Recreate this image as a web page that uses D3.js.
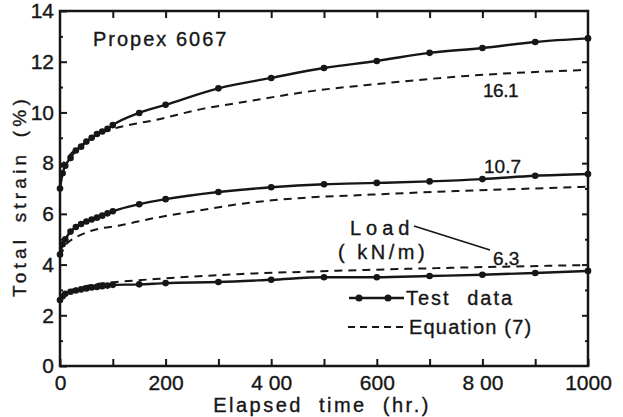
<!DOCTYPE html>
<html><head><meta charset="utf-8">
<script src="https://cdn.jsdelivr.net/npm/d3@7/dist/d3.min.js"></script>
<style>
html,body{margin:0;padding:0;background:#fff;}
svg{display:block;}
text{font-family:"Liberation Sans",Arial,sans-serif;fill:#161616;stroke:#161616;stroke-width:0.35px;}
</style></head>
<body>
<svg id="c" width="623" height="417"></svg>
<script>
// ---- data ----
const testTimes = [0,5,10,20,30,40,50,60,70,80,90,100,150,200,300,400,500,600,700,800,900,1000];
const test161 = [7.0,7.6,7.9,8.2,8.5,8.65,8.85,9.0,9.15,9.25,9.35,9.5,9.98,10.3,10.95,11.36,11.75,12.03,12.35,12.54,12.78,12.92];
const test107 = [4.4,4.8,5.0,5.3,5.48,5.6,5.7,5.78,5.85,5.93,6.02,6.1,6.38,6.58,6.86,7.05,7.17,7.22,7.28,7.37,7.5,7.57];
const test63  = [2.6,2.75,2.85,2.93,2.98,3.02,3.06,3.1,3.12,3.15,3.17,3.2,3.22,3.27,3.31,3.4,3.5,3.5,3.55,3.6,3.67,3.75];

const eqTimes161 = [0,10,20,40,60,80,100,130,180,270,345,480,600,770,1000];
const eq161 = [7.8,8.1,8.35,8.7,9.0,9.2,9.35,9.5,9.7,10.14,10.4,10.85,11.12,11.44,11.68];
const eqTimes107 = [0,10,28,53,117,180,269,356,460,581,750,896,1000];
const eq107 = [4.3,4.75,5.05,5.29,5.56,5.84,6.15,6.43,6.63,6.75,6.9,7.0,7.07];
const eqTimes63 = [0,10,30,60,129,180,345,455,600,800,1000];
const eq63 = [2.6,2.9,3.05,3.2,3.35,3.43,3.63,3.71,3.8,3.9,3.98];

const xTicks = [0,200,400,600,800,1000];
const xTickLabels = ["0","200","4 00","600","8 00","1000"];
const yTicks = [0,2,4,6,8,10,12,14];
const loadLabels = ["16.1","10.7","6.3"];

// ---- layout ----
const svg = d3.select("#c");
const x = d3.scaleLinear().domain([0,1000]).range([60,588]);
const y = d3.scaleLinear().domain([0,14]).range([366,11]);
const ink = "#161616";

// frame
svg.append("rect").attr("x",x(0)).attr("y",y(14)).attr("width",x(1000)-x(0)).attr("height",y(0)-y(14))
  .attr("fill","none").attr("stroke",ink).attr("stroke-width",2.5);

function styleAxis(g){
  g.select(".domain").remove();
  g.selectAll(".tick line").attr("stroke",ink).attr("stroke-width",2);
  g.selectAll(".tick text").attr("fill",ink).style("font-size","21px")
   .style("font-family",'"Liberation Sans",Arial,sans-serif');
}
// bottom axis with labels
svg.append("g").attr("transform",`translate(0,${y(0)})`)
  .call(d3.axisBottom(x).tickValues(xTicks).tickSize(-7).tickPadding(9)
        .tickFormat((d,i)=>xTickLabels[i]))
  .call(styleAxis);
// bottom minor
svg.append("g").attr("transform",`translate(0,${y(0)})`)
  .call(d3.axisBottom(x).tickValues([100,300,500,700,900]).tickSize(-7).tickFormat(""))
  .call(styleAxis);
// top ticks
svg.append("g").attr("transform",`translate(0,${y(14)})`)
  .call(d3.axisTop(x).tickValues(d3.range(100,1000,100)).tickSize(-7).tickFormat(""))
  .call(styleAxis);
// left axis
svg.append("g").attr("transform",`translate(${x(0)},0)`)
  .call(d3.axisLeft(y).tickValues(yTicks).tickSize(-7).tickPadding(6))
  .call(styleAxis);
svg.append("g").attr("transform",`translate(${x(0)},0)`)
  .call(d3.axisLeft(y).tickValues([1,3,5,7,9,11,13]).tickSize(-3).tickFormat(""))
  .call(styleAxis);
// right axis
svg.append("g").attr("transform",`translate(${x(1000)},0)`)
  .call(d3.axisRight(y).tickValues(yTicks.slice(1,7)).tickSize(-6).tickFormat(""))
  .call(styleAxis);
svg.append("g").attr("transform",`translate(${x(1000)},0)`)
  .call(d3.axisRight(y).tickValues([1,3,5,7,9,11,13]).tickSize(-3).tickFormat(""))
  .call(styleAxis);

// curves
const line = d3.line().x(d=>x(d[0])).y(d=>y(d[1])).curve(d3.curveMonotoneX);
const tests = [test161,test107,test63];
const eqs = [[eqTimes161,eq161],[eqTimes107,eq107],[eqTimes63,eq63]];

eqs.forEach(([ts,vs])=>{
  const pts = ts.map((t,i)=>[t,vs[i]]);
  svg.append("path").attr("d",line(pts)).attr("fill","none").attr("stroke",ink)
    .attr("stroke-width",2).attr("stroke-dasharray","8,6");
});
tests.forEach(vs=>{
  const pts = testTimes.map((t,i)=>[t,vs[i]]);
  svg.append("path").attr("d",line(pts)).attr("fill","none").attr("stroke",ink)
    .attr("stroke-width",2.4);
  svg.append("g").selectAll("circle").data(pts).join("circle")
    .attr("cx",d=>x(d[0])).attr("cy",d=>y(d[1])).attr("r",3.3).attr("fill",ink);
});

// annotations
svg.append("text").attr("x",93).attr("y",46).style("font-size","20px").style("letter-spacing","2px")
  .text("Propex 6067");
svg.append("text").attr("x",483).attr("y",97).style("font-size","19px").style("letter-spacing","-0.5px").text(loadLabels[0]);
svg.append("text").attr("x",484).attr("y",173).style("font-size","19px").style("letter-spacing","0px").text(loadLabels[1]);
svg.append("text").attr("x",493).attr("y",265).style("font-size","19px").style("letter-spacing","0px").text(loadLabels[2]);
svg.append("text").attr("x",350).attr("y",235).style("font-size","20px").style("letter-spacing","5px").text("Load");
svg.append("text").attr("x",338).attr("y",259).style("font-size","20px").style("letter-spacing","3.5px").text("( kN/m)");
svg.append("line").attr("x1",414).attr("y1",226).attr("x2",490).attr("y2",250)
  .attr("stroke",ink).attr("stroke-width",1.8);

// legend
svg.append("line").attr("x1",349).attr("x2",404).attr("y1",298).attr("y2",298).attr("stroke",ink).attr("stroke-width",2.4);
[359,388].forEach(cx=>svg.append("circle").attr("cx",cx).attr("cy",298).attr("r",3.5).attr("fill",ink));
svg.append("text").attr("x",406).attr("y",305).style("font-size","20px").style("letter-spacing","2px")
  .style("word-spacing","9px").text("Test data");
svg.append("line").attr("x1",348).attr("x2",408).attr("y1",327).attr("y2",327).attr("stroke",ink)
  .attr("stroke-width",2).attr("stroke-dasharray","7,5");
svg.append("text").attr("x",409).attr("y",334).style("font-size","20px").style("letter-spacing","1.2px")
  .text("Equation (7)");

// axis titles
svg.append("text").attr("x",322).attr("y",412).attr("text-anchor","middle").style("font-size","20px")
  .style("letter-spacing","2.5px").style("word-spacing","8px").text("Elapsed time (hr.)");
svg.append("text").attr("transform","translate(26,196) rotate(-90)").attr("text-anchor","middle")
  .style("font-size","19px").style("letter-spacing","4.2px").style("word-spacing","4px").text("Total strain (%)");
</script>
</body></html>
